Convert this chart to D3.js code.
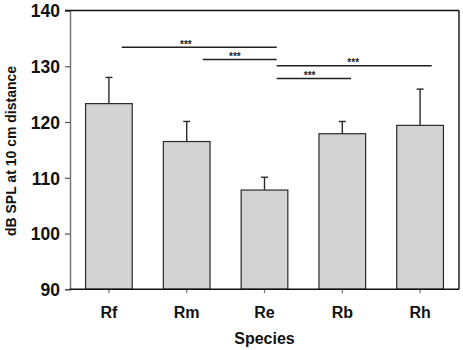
<!DOCTYPE html>
<html><head><meta charset="utf-8">
<script src="https://cdn.jsdelivr.net/npm/d3@7"></script>
<style>body{margin:0;background:#fff}svg{display:block}text{font-family:"Liberation Sans",Arial,sans-serif;font-weight:bold}</style>
</head><body><svg id="c" width="463" height="350"></svg>
<script>
const categories = ["Rf","Rm","Re","Rb","Rh"];
const means = [123.3, 116.5, 107.8, 117.9, 119.4];
const errTops = [128.0, 120.1, 110.1, 120.1, 125.9];
const yTicks = [90,100,110,120,130,140];
// significance brackets: start/end in category-index units, y in dB
const sigStart = [0.165, 1.206, 2.157, 2.157];
const sigEnd   = [2.157, 2.157, 4.149, 3.112];
const sigY     = [133.4, 131.2, 130.1, 127.8];
const sigLabelX = [0.99, 1.62, 3.14, 2.58];
const sigLabels = ["***","***","***","***"];

const svg = d3.select("#c");
const L=70, R=459, T=10.5, B=289.3;
const x = d3.scaleBand().domain(categories).range([L,R]).paddingInner(0.4).paddingOuter(0.2);
const xi = d3.scaleLinear().domain([0,4]).range([x("Rf")+x.bandwidth()/2, x("Rh")+x.bandwidth()/2]);
const y = d3.scaleLinear().domain([90,140]).range([B,T]);

// bars
svg.selectAll("rect.bar").data(categories).enter().append("rect")
  .attr("x", d=>x(d)).attr("width", x.bandwidth())
  .attr("y", (d,i)=>y(means[i])).attr("height",(d,i)=>y(90)-y(means[i]))
  .attr("fill","#d3d3d3").attr("stroke","#2a2a2a").attr("stroke-width",1.2);

// error bars
const eg = svg.append("g").attr("stroke","#2a2a2a").attr("stroke-width",1.4);
categories.forEach((c,i)=>{
  const cx = x(c)+x.bandwidth()/2;
  eg.append("line").attr("x1",cx).attr("x2",cx).attr("y1",y(means[i])).attr("y2",y(errTops[i]));
  eg.append("line").attr("x1",cx-3.5).attr("x2",cx+3.5).attr("y1",y(errTops[i])).attr("y2",y(errTops[i]));
});

// y axis
const ya = svg.append("g").attr("transform",`translate(${L},0)`)
  .call(d3.axisLeft(y).tickValues(yTicks).tickSize(5).tickPadding(5));
ya.select(".domain").attr("stroke","#777").attr("stroke-width",1.5);
ya.selectAll(".tick line").attr("stroke","#555").attr("stroke-width",1.2);
ya.selectAll(".tick text").attr("font-size",17.5).attr("fill","#111").attr("dy","0.36em");

// x axis
const xa = svg.append("g").attr("transform",`translate(0,${B})`)
  .call(d3.axisBottom(x).tickSize(4).tickPadding(13));
xa.select(".domain").remove();
xa.selectAll(".tick line").attr("stroke","#777").attr("stroke-width",1.2);
xa.selectAll(".tick text").attr("font-size",16).attr("fill","#111");

// frame
svg.append("line").attr("x1",L-0.5).attr("x2",R).attr("y1",B).attr("y2",B).attr("stroke","#111").attr("stroke-width",1.4);
svg.append("line").attr("x1",L-5).attr("x2",R).attr("y1",T).attr("y2",T).attr("stroke","#111").attr("stroke-width",1.4);
svg.append("line").attr("x1",R).attr("x2",R).attr("y1",T).attr("y2",B).attr("stroke","#111").attr("stroke-width",1.4);

// significance
const sg = svg.append("g");
sigY.forEach((v,i)=>{
  sg.append("line").attr("x1",xi(sigStart[i])).attr("x2",xi(sigEnd[i])).attr("y1",y(v)).attr("y2",y(v))
    .attr("stroke","#222").attr("stroke-width",1.4);
  sg.append("text").attr("x",xi(sigLabelX[i])).attr("y",y(v)+0.5).attr("text-anchor","middle")
    .attr("font-size",10).attr("fill","#222").text(sigLabels[i]);
});

// titles
svg.append("text").attr("x",(L+R)/2).attr("y",344).attr("text-anchor","middle").attr("font-size",16).attr("fill","#111").text("Species");
svg.append("text").attr("transform","translate(16,151) rotate(-90)").attr("text-anchor","middle").attr("font-size",14).attr("fill","#111").text("dB SPL at 10 cm distance");
</script></body></html>
